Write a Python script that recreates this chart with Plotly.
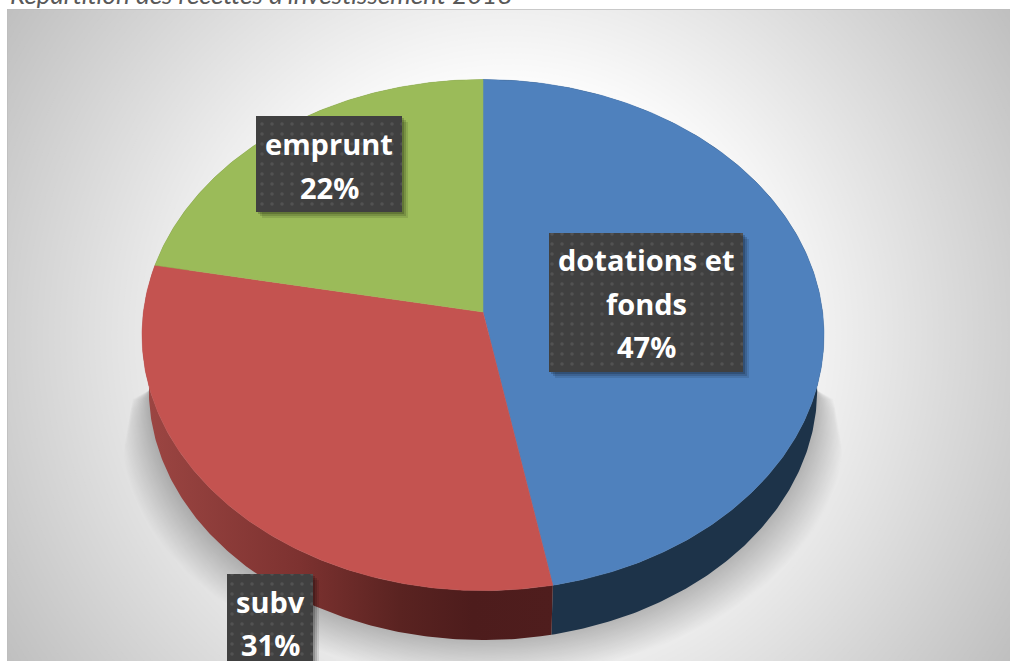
import math
import plotly.graph_objects as go

# ---- data ----
categories = ["dotations et fonds", "subv", "emprunt"]
label_lines = [["dotations et", "fonds"], ["subv"], ["emprunt"]]
values = [47, 31, 22]
title_text = "Répartition des recettes d'investissement 2018"
top_colors = ["#4f81bd", "#c45350", "#9bbb59"]

W, H = 1010, 661
CX, AY = 483, 312          # apex of the pie, in pixels
A, B, K = 253.5, 339.6, 0.0902  # tilted-circle projection
DEPTH, SHRINK = 55, 0.98


def proj(theta, s=1.0, dy=0.0):
    X, Y = math.sin(theta), math.cos(theta)
    d = 1 + K * Y
    return CX + s * B * X / d, AY + dy - s * A * Y / d


def arc(t0, t1, s=1.0, dy=0.0):
    n = max(2, int(abs(t1 - t0) / 0.01))
    pts = [proj(t0 + (t1 - t0) * i / n, s, dy) for i in range(n + 1)]
    return [p[0] for p in pts], [p[1] for p in pts]


fig = go.Figure()

# background radial gradient
GX, GY = 508, 335
shapes = [dict(type="rect", xref="x", yref="y", x0=0, x1=W, y0=0, y1=H, layer="below",
               fillcolor="rgb(190,190,190)", line_width=0)]
for g in range(191, 256):
    d = 236 + (255 - g) / 63 * (597 - 236)
    shapes.append(dict(type="circle", xref="x", yref="y", x0=GX - d, x1=GX + d, y0=GY - d, y1=GY + d,
                       layer="below", fillcolor=f"rgb({g},{g},{g})", line_width=0))
shapes.append(dict(type="rect", xref="x", yref="y", x0=7, x1=W + 5, y0=9, y1=H + 5,
                   line=dict(color="#bdbdbd", width=1.5), fillcolor="rgba(0,0,0,0)"))

# soft shadow beneath the pie
LAYERS = 30
for i in range(LAYERS, 0, -1):
    g = i / LAYERS
    xs, ys = [], []
    for j in range(0, 181, 2):
        ph = math.radians(j)
        sn, cs = math.sin(ph), math.cos(ph)
        h = sn ** 0.4
        dx = (334 + 64 * g * h) * cs
        y = 390 + (250 + 38 * g * h) * sn
        # straight flared flanks of the shadow
        lim = 341 + max(0.0, y - 338) * (0.03 + 0.135 * g)
        dx = max(-lim, min(lim, dx))
        xs.append(CX + dx)
        ys.append(y)
    xs = [824] + xs + [142]
    ys = [335] + ys + [335]
    fig.add_trace(go.Scatter(x=xs, y=ys, mode="lines", fill="toself", line=dict(width=0),
                             fillcolor="rgba(0,0,0,0.0075)", hoverinfo="skip", showlegend=False))

# slices
total = sum(values)
edges = [0.0]
for v in values:
    edges.append(edges[-1] + v / total * 2 * math.pi)

red_side = [[0, "#9b4542"], [0.37, "#7d3230"], [0.62, "#5a2321"], [0.8, "#4d1c1c"], [1, "#4f1d1d"]]
side_styles = [dict(fillcolor="#1d3349"),
               dict(fillgradient=dict(type="horizontal", colorscale=red_side, start=150, stop=553)),
               dict(fillcolor="#5d7036")]
for i in [2, 0, 1]:
    tx, ty = arc(edges[i], edges[i + 1])
    bx, by = arc(edges[i], edges[i + 1], SHRINK, DEPTH)
    fig.add_trace(go.Scatter(x=tx + bx[::-1], y=ty + by[::-1], mode="lines", fill="toself",
                             line=dict(width=0), hoverinfo="skip", showlegend=False, **side_styles[i]))
for i in range(3):
    tx, ty = arc(edges[i], edges[i + 1])
    fig.add_trace(go.Scatter(x=[CX] + tx + [CX], y=[AY] + ty + [AY], mode="lines", fill="toself",
                             fillcolor=top_colors[i], line=dict(width=0.5, color=top_colors[i]),
                             name=categories[i], hoverinfo="name", showlegend=False))

# label boxes (x0, x1, y0, y1) and text line centres
boxes = [(549, 743, 233, 372), (227, 313, 574, 672), (256, 402, 116, 212)]
line_ys = [[259, 303, 346], [601, 644], [143, 187]]
annotations = []
for i, (x0, x1, y0, y1) in enumerate(boxes):
    for off, a in [(6, 0.10), (4, 0.14), (2, 0.18)]:
        fig.add_trace(go.Scatter(x=[x0 + off, x1 + off, x1 + off, x0 + off, x0 + off],
                                 y=[y0 + off, y0 + off, y1 + off, y1 + off, y0 + off],
                                 mode="lines", fill="toself", line=dict(width=0),
                                 fillcolor=f"rgba(0,0,0,{a})", hoverinfo="skip", showlegend=False))
    fig.add_trace(go.Scatter(x=[x0, x1, x1, x0, x0], y=[y0, y0, y1, y1, y0],
                             mode="lines", fill="toself", line=dict(width=0),
                             fillcolor="#404040",
                             fillpattern=dict(shape=".", bgcolor="#404040", fgcolor="#525252",
                                              size=10, solidity=0.1, fillmode="replace"),
                             hoverinfo="skip", showlegend=False))
    lines = label_lines[i] + [f"{values[i]}%"]
    for txt, ly in zip(lines, line_ys[i]):
        annotations.append(dict(x=(x0 + x1) / 2, y=ly, xref="x", yref="y", text=f"<b>{txt}</b>",
                                showarrow=False, xanchor="center", yanchor="middle",
                                font=dict(family="Open Sans", size=29, color="white")))

annotations.append(dict(x=(8 - 7) / (W - 7), y=1, xref="paper", yref="paper", yshift=-3,
                        text=f"<i>{title_text}</i>", showarrow=False, xanchor="left", yanchor="bottom",
                        font=dict(family="Lato", size=26, color="#595959")))

fig.update_layout(
    width=W, height=H, autosize=False,
    margin=dict(l=7, r=0, t=9, b=0),
    paper_bgcolor="white", plot_bgcolor="white",
    xaxis=dict(range=[7, W], visible=False, fixedrange=True),
    yaxis=dict(range=[H, 9], visible=False, fixedrange=True),
    shapes=shapes, annotations=annotations, showlegend=False,
)
fig.write_html("out.html", config=dict(displayModeBar=False),
               post_script="document.body.style.margin='0';document.documentElement.style.overflow='hidden';")
